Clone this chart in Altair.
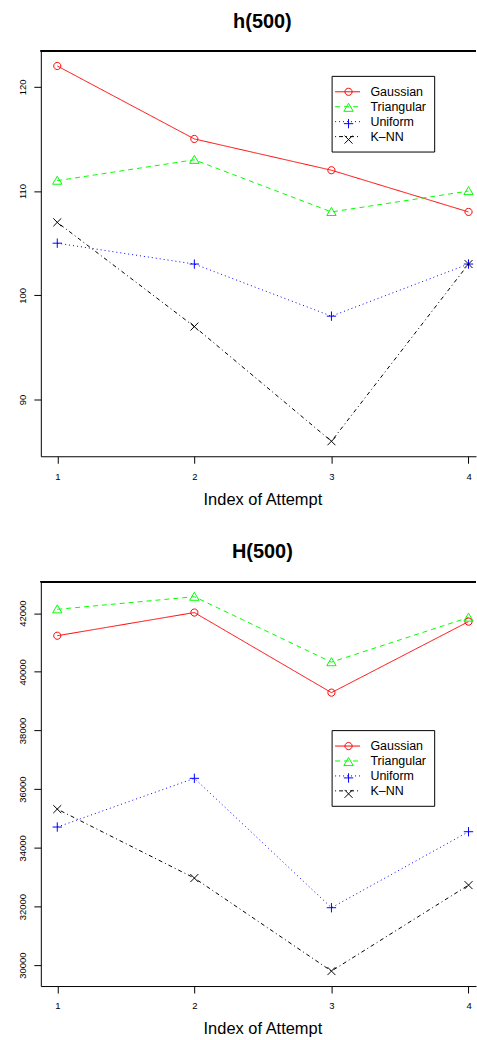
import altair as alt
import pandas as pd

# ---------------- data ----------------
attempts = [1, 2, 3, 4]
series_names = ["Gaussian", "Triangular", "Uniform", "K–NN"]

h_gaussian = [122, 115, 112, 108]
h_triangular = [111, 113, 108, 110]
h_uniform = [105, 103, 98, 103]
h_knn = [107, 97, 86, 103]

H_gaussian = [41230, 42020, 39290, 41710]
H_triangular = [42130, 42560, 40330, 41850]
H_uniform = [34710, 36370, 31960, 34550]
H_knn = [35320, 32970, 29800, 32730]

h_ticks = [90, 100, 110, 120]
H_ticks = [30000, 32000, 34000, 36000, 38000, 40000, 42000]
x_ticks = [1, 2, 3, 4]

# ---------------- styles ----------------
colors = ["#FF0000", "#00FF00", "#0000FF", "#000000"]
dashes = [[1, 0], [5, 4], [1, 3], [1, 3, 4, 3]]
shapes = [
    "M-0.72,0A0.72,0.72 0 1,1 0.72,0A0.72,0.72 0 1,1 -0.72,0Z",
    "M0,-0.9L-0.94,0.72L0.94,0.72Z",
    "M-0.94,0L0.94,0M0,-0.94L0,0.94",
    "M-0.8,-0.8L0.8,0.8M-0.8,0.8L0.8,-0.8",
]
FONT = "Liberation Sans"
TICKFONT = "Liberation Sans"
X_DOMAIN = [0.88, 4.0546]


def long_table(cols):
    rows = []
    for name, vals in zip(series_names, cols):
        for a, v in zip(attempts, vals):
            rows.append({"attempt": a, "value": v, "series": name})
    return pd.DataFrame(rows)


def panel(df, title, ydomain, yticks, height, legend_y):
    xscale = alt.Scale(domain=X_DOMAIN, nice=False, zero=False)
    yscale = alt.Scale(domain=ydomain, nice=False, zero=False)
    color_scale = alt.Scale(domain=series_names, range=colors)
    dash_scale = alt.Scale(domain=series_names, range=dashes)
    shape_scale = alt.Scale(domain=series_names, range=shapes)

    leg_lines = alt.Legend(
        orient="none", legendX=292, legendY=legend_y, title=None,
        strokeColor="black", fillColor="white", padding=8, cornerRadius=0,
        symbolType="M-1.667,0L1.667,0", symbolSize=225, symbolStrokeWidth=1,
        labelFontSize=12.5, labelFont=FONT, labelColor="black",
        labelOffset=15, rowPadding=0, zindex=1,
    )
    leg_marks = alt.Legend(
        orient="none", legendX=292, legendY=legend_y, title=None,
        strokeColor="transparent", padding=8,
        symbolSize=100, symbolStrokeWidth=1, symbolOffset=1,
        labelFontSize=16, labelFont=FONT, labelExpr="''",
        rowPadding=0, zindex=2,
    )

    xaxis = alt.Axis(
        values=x_ticks, format="d", title="Index of Attempt",
        grid=False, domainColor="black", domainWidth=1,
        tickColor="black", tickSize=7, tickWidth=1,
        labelFont=TICKFONT, labelFontSize=9.5, labelColor="black", labelPadding=8,
        titleFont=FONT, titleFontSize=16.5, titleFontWeight="normal", titleColor="black",
        titleX=222.5, titleY=48, titleAlign="center", titleBaseline="alphabetic",
    )
    yaxis = alt.Axis(
        values=yticks, format="d", title=None, grid=False,
        domainColor="black", domainWidth=1,
        tickColor="black", tickSize=7, tickWidth=1,
        labelFont=TICKFONT, labelFontSize=9.5, labelColor="black",
        labelAngle=270, labelAlign="center", labelBaseline="alphabetic",
        labelPadding=8,
    )

    lines = alt.Chart(df).mark_line(strokeWidth=1).encode(
        x=alt.X("attempt:Q", scale=xscale, axis=xaxis),
        y=alt.Y("value:Q", scale=yscale, axis=yaxis),
        color=alt.Color("series:N", scale=color_scale, legend=leg_lines),
        strokeDash=alt.StrokeDash("series:N", scale=dash_scale, legend=leg_lines),
    )

    points = alt.Chart(df).mark_point(filled=False, size=100, strokeWidth=1, opacity=1).encode(
        x=alt.X("attempt:Q", scale=xscale, axis=xaxis),
        y=alt.Y("value:Q", scale=yscale, axis=yaxis),
        color=alt.Color("series:N", scale=color_scale, legend=leg_marks),
        shape=alt.Shape("series:N", scale=shape_scale, legend=leg_marks),
    )

    # top edge of the plot frame, drawn along the y scale's upper limit
    frame_top = alt.Chart(df).mark_rule(color="black", strokeWidth=1).encode(
        x=alt.X(datum=X_DOMAIN[0], scale=xscale, axis=xaxis),
        x2=alt.X2(datum=X_DOMAIN[1]),
        y=alt.Y(datum=ydomain[1], scale=yscale, axis=yaxis),
    )

    return alt.layer(lines, points, frame_top).resolve_scale(
        color="independent", strokeDash="independent", shape="independent"
    ).properties(
        width=437, height=height,
        title=alt.Title(title, fontSize=20, fontWeight="bold", font=FONT,
                        anchor="middle", dx=4, color="black", offset=19),
    )


top = panel(long_table([h_gaussian, h_triangular, h_uniform, h_knn]),
            "h(500)", [84.56, 123.44], h_ticks, 407, 25)
bottom = panel(long_table([H_gaussian, H_triangular, H_uniform, H_knn]),
               "H(500)", [29290, 43070], H_ticks, 406, 149)

chart = alt.vconcat(top, bottom, spacing=34).properties(
    padding={"left": 17, "top": 9, "right": 0, "bottom": 0},
    background="white",
).configure_view(stroke=None)

chart.save("out.html", embed_options={"renderer": "svg", "actions": False})
